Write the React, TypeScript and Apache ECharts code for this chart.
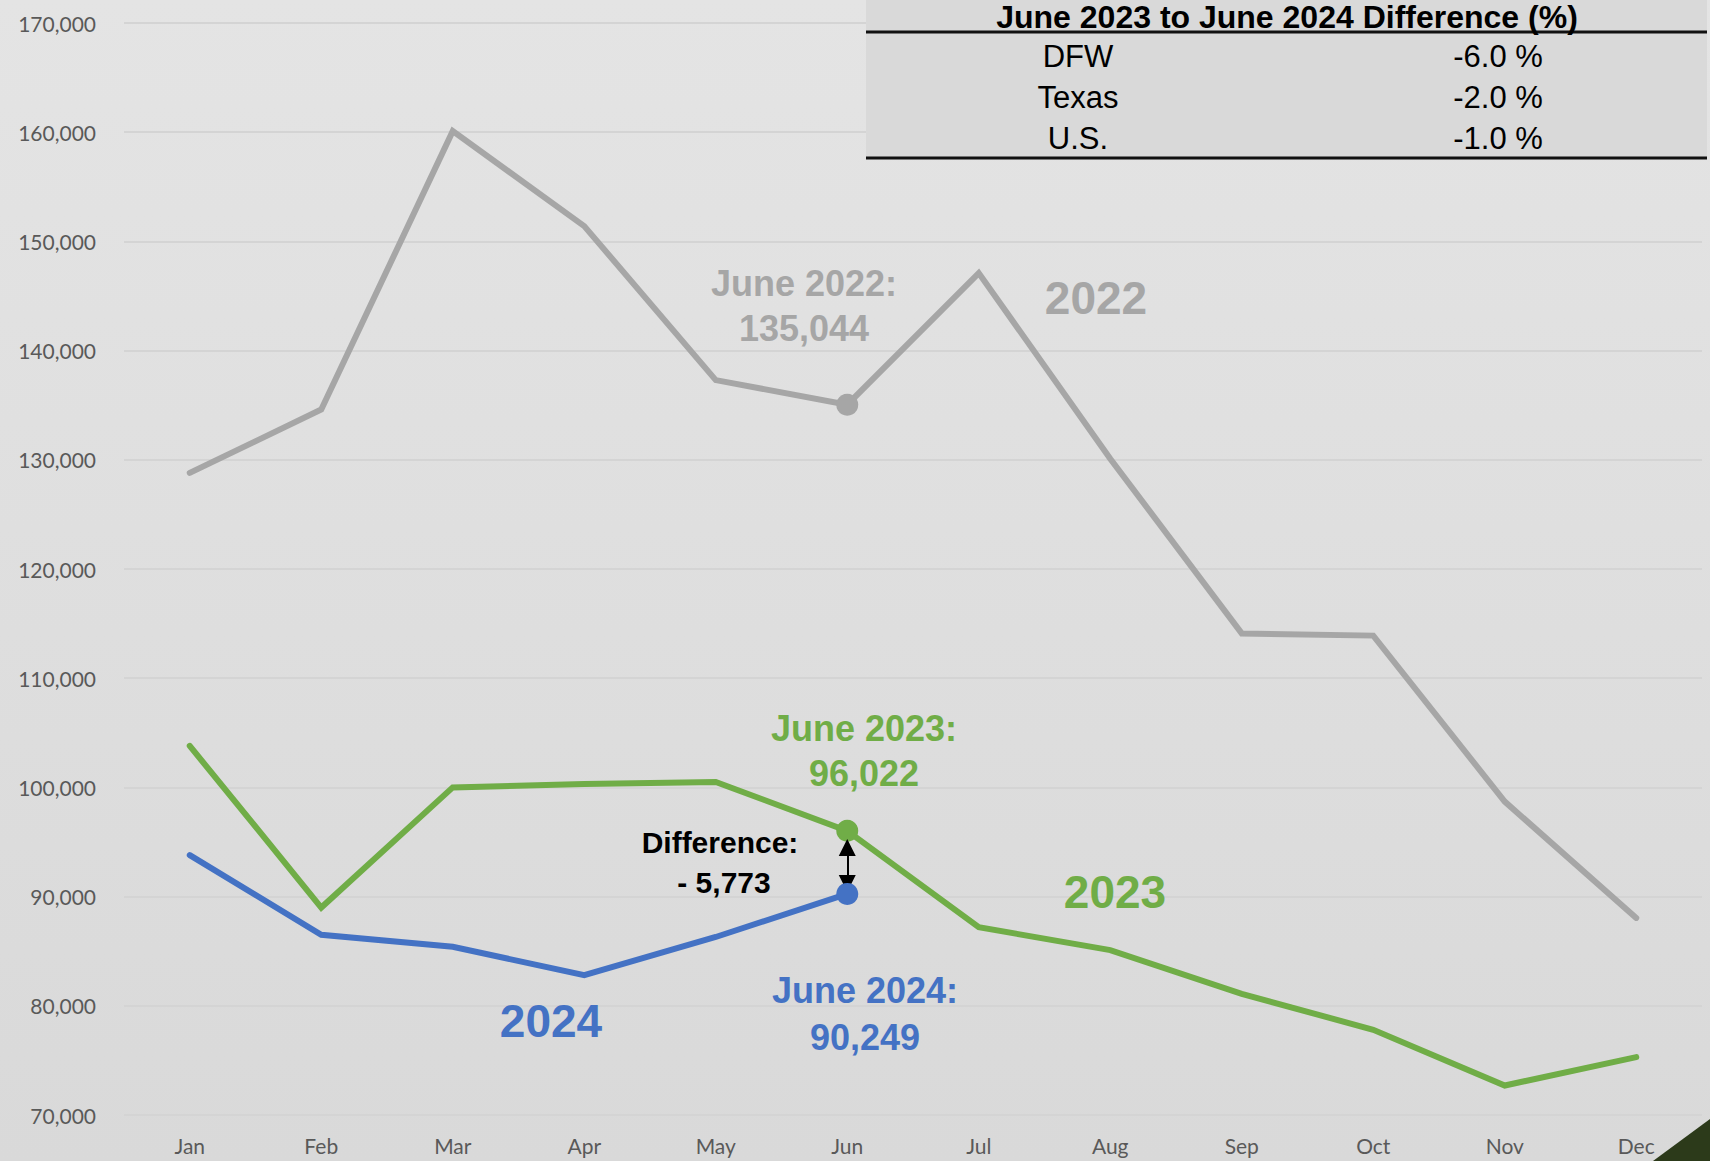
import React, { useEffect, useRef } from "react";
import * as echarts from "echarts";

const months = ["Jan", "Feb", "Mar", "Apr", "May", "Jun", "Jul", "Aug", "Sep", "Oct", "Nov", "Dec"];
const values2022 = [128800, 134600, 160100, 151400, 137300, 135044, 147100, 130100, 114100, 113900, 98700, 88050];
const values2023 = [103800, 89000, 100000, 100300, 100500, 96022, 87200, 85100, 81100, 77800, 72700, 75300];
const values2024 = [93800, 86500, 85400, 82800, 86300, 90249];
const yTicks = { min: 70000, max: 170000, interval: 10000 };
const markIndex = 5;
const arrowRange = [94500, 91200];
const tableHeader = "June 2023 to June 2024 Difference (%)";
const tableRegions = ["DFW", "Texas", "U.S."];
const tableValues = ["-6.0 %", "-2.0 %", "-1.0 %"];

const GREY = "#a6a6a6";
const GREEN = "#70ad47";
const BLUE = "#4472c4";
const BOLD = "'Liberation Sans', Arial, sans-serif";

function toData(vals: number[], color: string) {
  return vals.map((v, i) =>
    i === markIndex
      ? { value: v, symbol: "circle", symbolSize: 22, itemStyle: { color } }
      : { value: v, symbol: "none" }
  );
}

function txt(text: string, x: number, y: number, color: string, size: number, weight = "bold") {
  return {
    type: "text",
    x,
    y,
    z: 20,
    style: {
      text,
      fill: color,
      font: `${weight} ${size}px ${BOLD}`,
      align: "center",
      verticalAlign: "middle",
    },
  };
}

export default function App() {
  const ref = useRef<HTMLDivElement>(null);
  useEffect(() => {
    if (!ref.current) return;
    const chart = echarts.init(ref.current, null, { renderer: "svg" });
    const lineStyle = (color: string) => ({ color, width: 6, cap: "round", join: "miter" });
    const graphics: any[] = [
      { type: "rect", z: 10, shape: { x: 866, y: 0, width: 841, height: 158 }, style: { fill: "#d9d9d9" } },
      { type: "line", z: 11, shape: { x1: 866, y1: 32, x2: 1707, y2: 32 }, style: { stroke: "#111", lineWidth: 3 } },
      { type: "line", z: 11, shape: { x1: 866, y1: 158, x2: 1707, y2: 158 }, style: { stroke: "#111", lineWidth: 3 } },
      txt(tableHeader, 1287, 17, "#000", 32),
      { type: "polygon", z: 20, shape: { points: [[1653, 1161], [1710, 1119], [1710, 1161]] }, style: { fill: "#2c3a1a" } },
      txt("June 2022:", 804, 283, GREY, 36),
      txt("135,044", 804, 328, GREY, 36),
      txt("2022", 1096, 298, GREY, 46),
      txt("June 2023:", 864, 728, GREEN, 36),
      txt("96,022", 864, 773, GREEN, 36),
      txt("2023", 1115, 892, GREEN, 46),
      txt("June 2024:", 865, 990, BLUE, 36),
      txt("90,249", 865, 1037, BLUE, 36),
      txt("2024", 551, 1021, BLUE, 46),
      txt("Difference:", 720, 842, "#000", 30),
      txt("- 5,773", 724, 882, "#000", 30),
    ];
    const rowY = [56, 97, 138];
    tableRegions.forEach((r, i) => {
      graphics.push(txt(r, 1078, rowY[i], "#000", 31, "normal"));
      graphics.push(txt(tableValues[i], 1498, rowY[i], "#000", 31, "normal"));
    });
    chart.setOption({
      animation: false,
      backgroundColor: "transparent",
      grid: { left: 124, right: 8, top: 23, bottom: 46, containLabel: false },
      xAxis: {
        type: "category",
        data: months,
        boundaryGap: true,
        axisLine: { show: false },
        axisTick: { show: false },
        axisLabel: { color: "#595959", fontSize: 21, fontFamily: "Lato, 'Open Sans', sans-serif", margin: 20 },
      },
      yAxis: {
        type: "value",
        min: yTicks.min,
        max: yTicks.max,
        interval: yTicks.interval,
        axisLine: { show: false },
        axisTick: { show: false },
        splitLine: { lineStyle: { color: "#d4d4d4", width: 2 } },
        axisLabel: {
          color: "#595959",
          fontSize: 21,
          fontFamily: "Lato, 'Open Sans', sans-serif",
          margin: 28,
          formatter: (v: number) => v.toLocaleString("en-US"),
        },
      },
      series: [
        { name: "2022", type: "line", data: toData(values2022, GREY), lineStyle: lineStyle(GREY), itemStyle: { color: GREY }, z: 3 },
        { name: "2023", type: "line", data: toData(values2023, GREEN), lineStyle: lineStyle(GREEN), itemStyle: { color: GREEN }, z: 4 },
        {
          name: "2024",
          type: "line",
          data: toData(values2024, BLUE),
          lineStyle: lineStyle(BLUE),
          itemStyle: { color: BLUE },
          z: 5,
          markLine: {
            silent: true,
            symbol: ["triangle", "triangle"],
            symbolSize: 17,
            label: { show: false },
            lineStyle: { color: "#000", width: 2, type: "solid" },
            data: [[{ coord: [months[markIndex], arrowRange[0]] }, { coord: [months[markIndex], arrowRange[1]] }]],
          },
        },
      ],
      graphic: graphics,
    });
    return () => chart.dispose();
  }, []);
  return (
    <div
      ref={ref}
      style={{
        position: "fixed",
        left: 0,
        top: 0,
        width: 1710,
        height: 1161,
        background: "linear-gradient(#e4e4e4, #d9d9d9)",
      }}
    />
  );
}
